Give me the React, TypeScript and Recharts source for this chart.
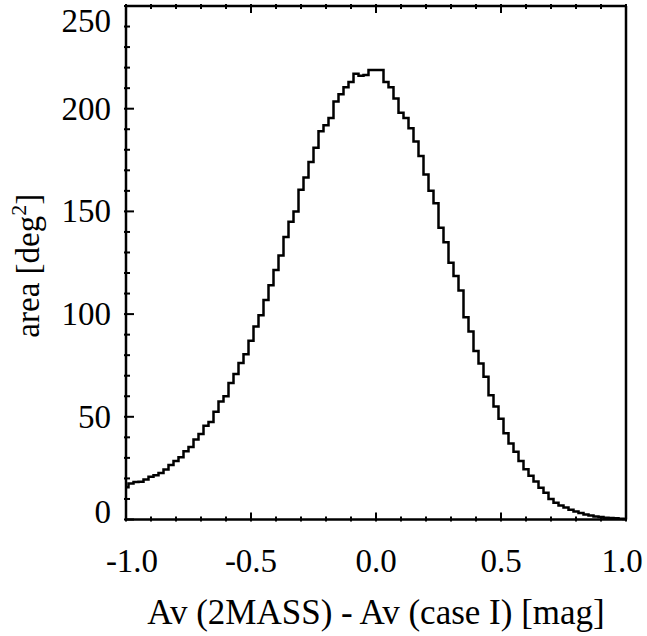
import { Line, LineChart, XAxis, YAxis } from 'recharts'

// histogram bin centres [mag] and area per bin [deg^2]
const binCenters = [
  -1.0, -0.98, -0.96, -0.94, -0.92, -0.9, -0.88, -0.86, -0.84, -0.82,
  -0.8, -0.78, -0.76, -0.74, -0.72, -0.7, -0.68, -0.66, -0.64, -0.62,
  -0.6, -0.58, -0.56, -0.54, -0.52, -0.5, -0.48, -0.46, -0.44, -0.42,
  -0.4, -0.38, -0.36, -0.34, -0.32, -0.3, -0.28, -0.26, -0.24, -0.22,
  -0.2, -0.18, -0.16, -0.14, -0.12, -0.1, -0.08, -0.06, -0.04, -0.02,
  0.0, 0.02, 0.04, 0.06, 0.08, 0.1, 0.12, 0.14, 0.16, 0.18,
  0.2, 0.22, 0.24, 0.26, 0.28, 0.3, 0.32, 0.34, 0.36, 0.38,
  0.4, 0.42, 0.44, 0.46, 0.48, 0.5, 0.52, 0.54, 0.56, 0.58,
  0.6, 0.62, 0.64, 0.66, 0.68, 0.7, 0.72, 0.74, 0.76, 0.78,
  0.8, 0.82, 0.84, 0.86, 0.88, 0.9, 0.92, 0.94, 0.96, 0.98, 1.0
]

const areaValues = [
  15.7, 17.5, 18.2, 18.4, 19.5, 20.8, 21.6, 22.6, 24.3, 26.5,
  28.5, 30.3, 33.2, 35.3, 39.0, 41.6, 45.6, 47.5, 52.5, 57.4,
  60.0, 66.5, 70.8, 76.2, 80.5, 87.0, 94.0, 99.5, 106.9, 114.0,
  121.5, 128.5, 137.5, 145.0, 150.0, 160.5, 166.5, 174.0, 181.0, 189.0,
  192.0, 195.5, 203.5, 207.0, 210.5, 213.0, 217.0, 216.0, 216.4, 218.8,
  218.8, 218.8, 213.0, 210.5, 205.0, 198.0, 195.5, 190.5, 184.0, 177.0,
  168.0, 160.0, 154.0, 142.0, 135.0, 125.0, 118.5, 111.5, 98.5, 91.5,
  82.0, 76.0, 69.5, 60.5, 55.0, 49.0, 42.0, 37.0, 33.0, 28.5,
  24.5, 21.3, 18.5, 15.5, 13.0, 10.0, 8.2, 6.8, 5.8, 4.8,
  3.9, 3.2, 2.4, 1.9, 1.5, 1.2, 0.9, 0.7, 0.6, 0.4, 0.3
]

// axis ticks: minor every 0.1 / 10, labels on the majors
const xTicks = [-1, -0.9, -0.8, -0.7, -0.6, -0.5, -0.4, -0.3, -0.2, -0.1, 0, 0.1, 0.2, 0.3, 0.4, 0.5, 0.6, 0.7, 0.8, 0.9, 1]
const xMajorTicks = [-1, -0.5, 0, 0.5, 1]
const xMajorLabels = ['-1.0', '-0.5', '0.0', '0.5', '1.0']

const yTicks = [0, 10, 20, 30, 40, 50, 60, 70, 80, 90, 100, 110, 120, 130, 140, 150, 160, 170, 180, 190, 200, 210, 220, 230, 240, 250]
const yMajorTicks = [0, 50, 100, 150, 200, 250]
const yMajorLabels = ['0', '50', '100', '150', '200', '250']

const data = binCenters.map((dx, i) => ({ dx, area: areaValues[i] }))

const FONT = '"Liberation Serif", "Times New Roman", serif'
const FS = 33
const AX = { stroke: '#000', strokeWidth: 2.5 }

const clamp = (v: number, lo: number, hi: number) => Math.min(hi, Math.max(lo, v))
const majorIndex = (list: number[], v: number) => list.findIndex((m) => Math.abs(m - v) < 1e-6)

function BottomTick(props: any) {
  const { x, y, payload } = props
  const idx = majorIndex(xMajorTicks, payload.value)
  const major = idx >= 0
  return (
    <g>
      <line x1={x} x2={x} y1={y} y2={y - (major ? 9 : 5)} stroke="#000" strokeWidth={2} />
      {major && (
        <text x={clamp(x, 132, 622)} y={y + 50} textAnchor="middle" fontFamily={FONT} fontSize={FS} fill="#000">
          {xMajorLabels[idx]}
        </text>
      )}
    </g>
  )
}

function TopTick(props: any) {
  const { x, y, payload } = props
  const major = majorIndex(xMajorTicks, payload.value) >= 0
  return <line x1={x} x2={x} y1={y} y2={y + (major ? 9 : 5)} stroke="#000" strokeWidth={2} />
}

function LeftTick(props: any) {
  const { x, y, payload } = props
  const idx = majorIndex(yMajorTicks, payload.value)
  const major = idx >= 0
  return (
    <g>
      <line x1={x} x2={x + (major ? 10 : 6)} y1={y} y2={y} stroke="#000" strokeWidth={2} />
      {major && (
        <text x={x - 13} y={clamp(y, 21, 512) + 11} textAnchor="end" fontFamily={FONT} fontSize={FS} fill="#000">
          {yMajorLabels[idx]}
        </text>
      )}
    </g>
  )
}

function RightTick(props: any) {
  const { x, y, payload } = props
  const major = majorIndex(yMajorTicks, payload.value) >= 0
  return <line x1={x} x2={x - (major ? 10 : 6)} y1={y} y2={y} stroke="#000" strokeWidth={2} />
}

// y title with superscript, baseline on the right side after rotation
function YTitle(props: any) {
  const { viewBox } = props
  const cx = viewBox.x + 13
  const cy = viewBox.y + viewBox.height / 2 + 3
  return (
    <text
      x={cx}
      y={cy}
      transform={`rotate(-90, ${cx}, ${cy})`}
      textAnchor="middle"
      fontFamily={FONT}
      fontSize={FS}
      fill="#000"
    >
      area [deg
      <tspan dy={-13} fontSize={22}>2</tspan>
      <tspan dy={13}>]</tspan>
    </text>
  )
}

export default function App() {
  return (
    <div style={{ position: 'absolute', left: 0, top: 0, width: 647, height: 636, background: '#fff' }}>
      <LineChart width={647} height={636} data={data} margin={{ top: 5, right: 20, bottom: 36.5, left: 26 }}>
        <XAxis
          xAxisId="b"
          dataKey="dx"
          type="number"
          domain={[-1, 1]}
          ticks={xTicks}
          interval={0}
          height={80}
          tickSize={0}
          tickLine={false}
          axisLine={AX}
          tick={(p: any) => <BottomTick {...p} />}
          label={{
            value: 'Av (2MASS) - Av (case I) [mag]',
            position: 'bottom',
            offset: 0,
            fontFamily: FONT,
            fontSize: 35,
            fill: '#000'
          }}
        />
        <XAxis
          xAxisId="t"
          orientation="top"
          dataKey="dx"
          type="number"
          domain={[-1, 1]}
          ticks={xTicks}
          interval={0}
          height={1}
          tickSize={0}
          tickLine={false}
          axisLine={AX}
          tick={(p: any) => <TopTick {...p} />}
        />
        <YAxis
          yAxisId="l"
          type="number"
          domain={[0, 250]}
          ticks={yTicks}
          interval={0}
          width={100}
          tickSize={0}
          tickLine={false}
          axisLine={AX}
          tick={(p: any) => <LeftTick {...p} />}
          label={{ content: (p: any) => <YTitle {...p} /> }}
        />
        <YAxis
          yAxisId="r"
          orientation="right"
          type="number"
          domain={[0, 250]}
          ticks={yTicks}
          interval={0}
          width={1}
          tickSize={0}
          tickLine={false}
          axisLine={AX}
          tick={(p: any) => <RightTick {...p} />}
        />
        <Line
          xAxisId="b"
          yAxisId="l"
          dataKey="area"
          type="step"
          stroke="#000"
          strokeWidth={2.5}
          dot={false}
          activeDot={false}
          isAnimationActive={false}
        />
      </LineChart>
    </div>
  )
}
